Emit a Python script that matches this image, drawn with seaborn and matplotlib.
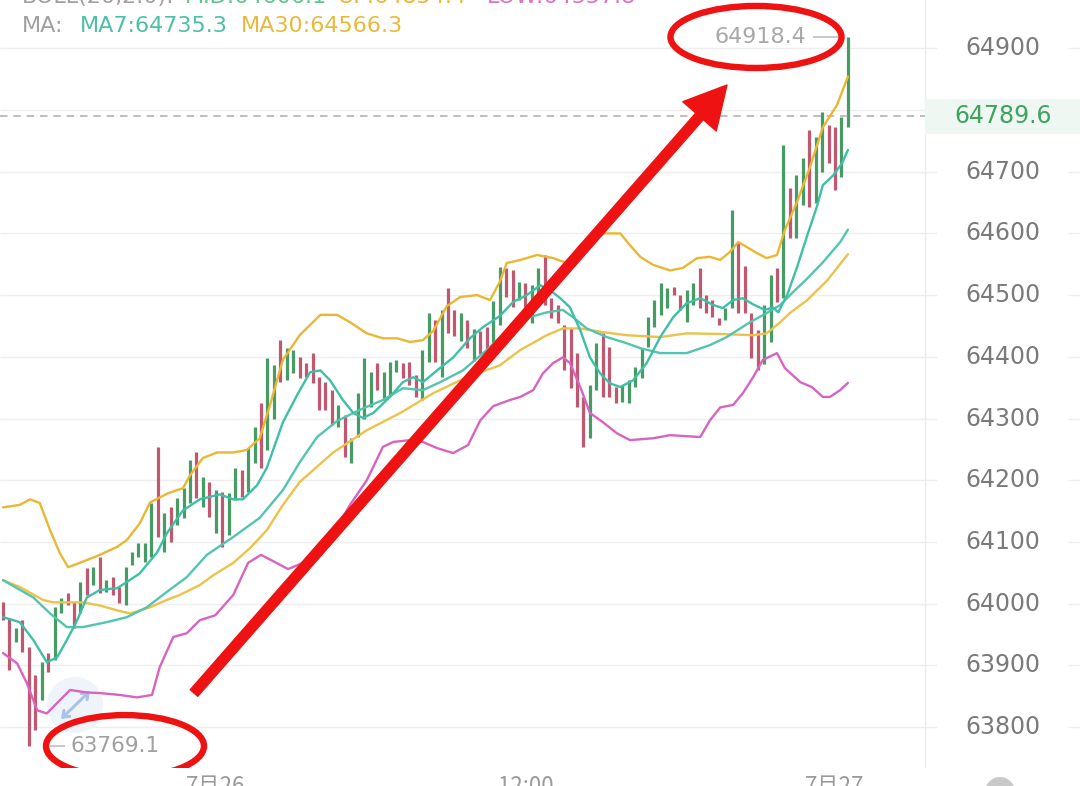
import numpy as np
import pandas as pd
import matplotlib
matplotlib.use("Agg")
import matplotlib.pyplot as plt
import seaborn as sns
from matplotlib.patches import Ellipse, Rectangle, FancyArrowPatch

# ---------------- data (15-minute candles) ----------------
highs = [64003, 63976, 63960, 63973, 63929, 63884, 63905, 63920, 63994, 64009,
         64017, 64002, 64035, 64057, 64059, 64075, 64038, 64043, 64027, 64059,
         64083, 64098, 64098, 64163, 64254, 64147, 64156, 64171, 64187, 64233,
         64245, 64205, 64197, 64184, 64181, 64179, 64220, 64216, 64252, 64286,
         64325, 64398, 64386, 64427, 64414, 64411, 64400, 64390, 64406, 64367,
         64359, 64346, 64322, 64306, 64268, 64341, 64398, 64375, 64390, 64375,
         64392, 64395, 64390, 64392, 64370, 64411, 64471, 64459, 64476, 64511,
         64476, 64471, 64459, 64445, 64442, 64448, 64490, 64545, 64544, 64540,
         64521, 64519, 64516, 64544, 64565, 64495, 64484, 64452, 64447, 64406,
         64335, 64354, 64422, 64438, 64416, 64351, 64354, 64362, 64383, 64414,
         64464, 64492, 64519, 64511, 64513, 64500, 64508, 64519, 64544, 64500,
         64492, 64463, 64479, 64638, 64586, 64547, 64471, 64443, 64484, 64532,
         64544, 64743, 64673, 64694, 64722, 64767, 64756, 64797, 64775, 64772,
         64788, 64918.4]
lows = [63973, 63892, 63938, 63921, 63769.1, 63795, 63843, 63889, 63908, 63985,
        63998, 63960, 63985, 64014, 64030, 64017, 64019, 64014, 64001, 63998,
        64062, 64075, 64067, 64075, 64108, 64083, 64100, 64127, 64139, 64163,
        64171, 64156, 64140, 64114, 64092, 64111, 64168, 64173, 64181, 64228,
        64220, 64249, 64300, 64359, 64362, 64373, 64365, 64367, 64357, 64314,
        64314, 64289, 64286, 64237, 64228, 64270, 64300, 64319, 64346, 64330,
        64338, 64375, 64366, 64354, 64335, 64330, 64392, 64392, 64367, 64438,
        64433, 64425, 64414, 64393, 64404, 64411, 64411, 64451, 64497, 64481,
        64492, 64481, 64455, 64497, 64484, 64463, 64455, 64378, 64349, 64318,
        64254, 64268, 64346, 64335, 64335, 64325, 64327, 64325, 64351, 64365,
        64416, 64448, 64468, 64479, 64500, 64476, 64456, 64484, 64479, 64471,
        64464, 64452, 64460, 64479, 64471, 64471, 64398, 64378, 64388, 64424,
        64489, 64495, 64592, 64592, 64646, 64643, 64649, 64699, 64714, 64670,
        64691, 64773]
rising = [0, 0, 1, 0, 0, 0, 1, 0, 1, 1,
          0, 0, 1, 0, 1, 0, 1, 0, 0, 1,
          1, 1, 1, 1, 0, 1, 0, 1, 1, 1,
          0, 1, 0, 1, 0, 1, 1, 0, 1, 1,
          0, 1, 1, 0, 1, 1, 0, 0, 0, 0,
          0, 0, 1, 0, 1, 1, 1, 1, 0, 1,
          1, 1, 0, 0, 0, 1, 1, 0, 1, 0,
          0, 1, 0, 1, 0, 0, 1, 1, 0, 0,
          1, 0, 1, 1, 0, 0, 0, 0, 0, 0,
          0, 1, 1, 0, 0, 0, 1, 1, 1, 1,
          1, 1, 1, 1, 0, 0, 1, 1, 0, 0,
          0, 0, 1, 1, 0, 0, 0, 0, 1, 1,
          0, 1, 0, 1, 1, 0, 1, 1, 0, 0,
          1, 1]
last_price = 64789.6

boll_up_i = [0, 2.6, 4.2, 5.7, 7.3, 8.8, 10.1, 11.9, 15.0, 17.7, 19.2, 21.2, 22.8, 25.6,
             27.9, 29.0, 31.0, 33.2, 35.7, 37.8, 39.8, 41.4, 43.4, 46.0, 49.2, 51.8, 53.8,
             56.4, 58.9, 61.1, 63.1, 65.1, 66.7, 68.8, 70.9, 73.5, 75.5, 77.0, 78.1, 80.2,
             82.8, 85.3, 87.4, 89.5, 92.6, 95.7, 97.2, 98.8, 100.8, 103.4, 105.4, 107.6,
             109.6, 111.2, 112.7, 114.0, 115.3, 116.9, 118.4, 120.0, 121.2, 123.1, 125.1,
             127.1, 129.3, 131]
boll_up_p = [64156, 64160, 64169, 64163, 64119, 64082, 64059, 64066, 64079, 64092,
             64103, 64130, 64164, 64179, 64187, 64208, 64236, 64245, 64245, 64249,
             64268, 64322, 64395, 64435, 64468, 64468, 64456, 64438, 64430, 64430,
             64424, 64427, 64442, 64482, 64497, 64500, 64492, 64521, 64552, 64557,
             64565, 64560, 64552, 64581, 64600, 64600, 64581, 64562, 64549, 64540,
             64544, 64560, 64562, 64557, 64570, 64586, 64578, 64568, 64560, 64565,
             64605, 64651, 64707, 64772, 64808, 64854.4]

boll_mid_i = [0, 4.7, 7.3, 9.9, 12.4, 16.1, 19.2, 22.3, 25.4, 28.5, 31.6, 35.7, 39.8,
              43.4, 46.0, 48.7, 51.8, 55.3, 58.9, 62.0, 65.1, 67.8, 71.3, 75.0, 78.1,
              81.2, 84.3, 86.8, 88.4, 90.5, 93.6, 96.7, 98.8, 101.9, 106.0, 109.6,
              112.2, 115.8, 118.4, 120.5, 122.5, 124.7, 127.1, 129.8, 131]
boll_mid_p = [64038, 64010, 63984, 63962, 63962, 63970, 63978, 63994, 64019, 64043,
              64079, 64108, 64139, 64184, 64229, 64270, 64296, 64314, 64330, 64349,
              64346, 64359, 64378, 64411, 64442, 64463, 64472, 64476, 64464, 64446,
              64432, 64422, 64414, 64406, 64406, 64419, 64432, 64456, 64471, 64484,
              64505, 64527, 64553, 64586, 64606.1]

boll_low_i = [0, 2.2, 3.7, 5.3, 6.8, 8.4, 10.4, 13.0, 15.0, 18.1, 20.8, 23.1, 24.3,
              26.4, 28.5, 30.5, 32.9, 35.7, 38.0, 40.0, 42.2, 44.2, 46.5, 48.4, 51.5,
              53.8, 56.4, 58.9, 60.5, 63.1, 65.1, 67.3, 69.8, 72.1, 74.0, 76.0, 78.6,
              80.2, 82.2, 83.7, 85.3, 86.8, 87.9, 89.5, 91.0, 93.0, 95.2, 97.2, 100.8,
              103.4, 108.1, 109.6, 111.2, 113.2, 114.7, 116.3, 117.8, 120.0, 121.2,
              123.6, 125.4, 127.1, 128.2, 129.8, 131]
boll_low_p = [63920, 63903, 63871, 63827, 63822, 63839, 63860, 63856, 63855, 63852,
              63848, 63852, 63897, 63946, 63952, 63973, 63981, 64014, 64066, 64079,
              64067, 64056, 64066, 64077, 64119, 64160, 64200, 64254, 64262, 64265,
              64262, 64252, 64244, 64257, 64297, 64320, 64330, 64335, 64346, 64373,
              64390, 64399, 64390, 64351, 64309, 64294, 64276, 64265, 64268, 64273,
              64270, 64297, 64318, 64322, 64341, 64367, 64395, 64406, 64382, 64359,
              64351, 64335, 64335, 64346, 64357.8]

ma7_i = [0, 2.6, 4.7, 6.8, 8.4, 9.9, 11.5, 13.0, 15.0, 17.7, 19.2, 21.2, 23.9, 25.4,
         27.9, 30.5, 33.6, 35.7, 37.2, 39.4, 40.9, 43.4, 45.6, 47.6, 49.2, 50.7, 52.7,
         54.3, 55.8, 57.4, 60.0, 62.0, 63.6, 65.1, 67.3, 69.8, 72.4, 74.4, 77.0, 79.1,
         81.2, 83.3, 84.8, 86.4, 87.9, 89.5, 91.0, 92.6, 94.1, 95.7, 97.7, 99.8, 101.9,
         103.9, 106.0, 108.1, 110.1, 111.6, 113.2, 114.7, 116.3, 118.1, 119.4, 120.2,
         121.6, 123.1, 124.7, 126.2, 127.1, 128.7, 130.1, 131]
ma7_p = [63978, 63970, 63941, 63905, 63913, 63941, 63973, 64010, 64022, 64025,
         64035, 64049, 64083, 64114, 64151, 64169, 64177, 64169, 64169, 64192,
         64220, 64294, 64338, 64375, 64378, 64362, 64330, 64309, 64301, 64309,
         64335, 64359, 64367, 64359, 64378, 64399, 64430, 64448, 64466, 64489,
         64500, 64516, 64508, 64495, 64480, 64443, 64399, 64373, 64357, 64351,
         64362, 64390, 64432, 64464, 64487, 64495, 64484, 64479, 64492, 64495,
         64485, 64476, 64480, 64472, 64501, 64545, 64597, 64644, 64678, 64694,
         64714, 64735.3]

ma30_i = [0, 2.6, 6.2, 7.8, 12.4, 15.0, 17.7, 19.7, 22.8, 25.4, 27.4, 30.5, 32.6,
          35.7, 38.3, 40.9, 43.4, 46.0, 51.2, 56.4, 61.6, 66.7, 71.9, 77.0, 80.2,
          84.3, 86.8, 89.5, 93.0, 96.7, 101.9, 106.0, 111.2, 116.3, 118.4, 120.5,
          122.0, 124.7, 127.8, 131]
ma30_p = [64038, 64027, 64006, 64002, 64002, 63997, 63989, 63984, 63994, 64006,
          64014, 64030, 64046, 64066, 64090, 64119, 64160, 64197, 64245, 64281,
          64309, 64341, 64367, 64386, 64411, 64435, 64446, 64446, 64440, 64435,
          64432, 64438, 64437, 64435, 64438, 64456, 64471, 64492, 64524, 64566.3]

price_ticks = [63800, 63900, 64000, 64100, 64200, 64300, 64400, 64500,
               64600, 64700, 64800, 64900]
price_tick_labels = ['63800', '63900', '64000', '64100', '64200', '64300', '64400',
                     '64500', '64600', '64700', '', '64900']
time_ticks = [33, 81, 129]
time_labels = ['7月26', '12:00', '7月27']

# ---------------- style ----------------
sns.set_style("white")
plt.rcParams['font.family'] = ['DejaVu Sans', 'Noto Sans CJK SC']

GREEN = '#479c66'
RED = '#c2586f'
C_UP = '#ebb733'
C_MA30 = '#ecc24a'
C_MID = '#52c4b0'
C_MA7 = '#3fbfa6'
C_LOW = '#d664c0'
RED_MARK = '#ee1212'

W, H = 1080, 786
AX_H = 768
fig = plt.figure(figsize=(W / 100, H / 100), dpi=100)
fig.patch.set_facecolor('white')
ax = fig.add_axes([0, (H - AX_H) / H, 1, AX_H / H])
ax.set_facecolor('white')

# pixel <-> data layout helpers (candle 0 at px 3, 6.45 px per candle; 61.7 px per 100)
X0, DX = 3.0, 6.45
P_TOP, PPP = 64978.3, 100 / 61.7


def px2x(px):
    return (px - X0) / DX


def px2p(py):
    return P_TOP - py * PPP


ax.set_xlim(px2x(0), px2x(W))
ax.set_ylim(px2p(AX_H), px2p(0))
for s in ax.spines.values():
    s.set_visible(False)

# grid lines (main area and stubs on the price panel)
for v in price_ticks:
    ax.hlines(v, px2x(0), px2x(937), colors='#eeeeee', lw=1.0, zorder=0)
    ax.hlines(v, px2x(1068), px2x(W), colors='#eeeeee', lw=1.0, zorder=0)
ax.axvline(px2x(925), color='#ececec', lw=1.0, zorder=0)

# candles
idx = np.arange(len(highs))
cols = [GREEN if r else RED for r in rising]
ax.vlines(idx, lows, highs, colors=cols, lw=2.3, zorder=1.5)

# indicator lines via seaborn
frames = []
for name, xs, ys in [('BOLL UP', boll_up_i, boll_up_p), ('MA30', ma30_i, ma30_p),
                     ('BOLL MID', boll_mid_i, boll_mid_p), ('MA7', ma7_i, ma7_p),
                     ('BOLL LOW', boll_low_i, boll_low_p)]:
    frames.append(pd.DataFrame({'i': xs, 'price': ys, 'line': name}))
df = pd.concat(frames, ignore_index=True)
pal = {'BOLL UP': C_UP, 'MA30': C_MA30, 'BOLL MID': C_MID, 'MA7': C_MA7, 'BOLL LOW': C_LOW}
sns.lineplot(data=df, x='i', y='price', hue='line', palette=pal, estimator=None,
             sort=False, legend=False, lw=1.7, ax=ax, zorder=3)

# current price dashed line and box
ax.hlines(last_price, px2x(0), px2x(925), colors='#b3b3b3', lw=1.2,
          linestyles=(0, (4.5, 3.5)), zorder=2)
ax.add_patch(Rectangle((px2x(925), last_price - 17.5 * PPP), px2x(W) - px2x(925),
                       35 * PPP, facecolor='#eef7f1', edgecolor='none', zorder=1))
ax.text(px2x(1003), last_price, f'{last_price}', ha='center', va='center',
        fontsize=17, color='#3ea35f', zorder=5)

# price labels
for v, lab in zip(price_ticks, price_tick_labels):
    if lab:
        ax.text(px2x(1003), v, lab, ha='center', va='center', fontsize=17,
                color='#7a7a7a', zorder=5)

# x tick labels
ax.set_yticks([])
ax.set_xticks(time_ticks)
ax.set_xticklabels(time_labels, fontsize=16, color='#9a9a9a',
                   family=['Noto Sans CJK SC', 'DejaVu Sans'])
ax.tick_params(axis='x', length=0, pad=5)

# high / low markers
hi_v = max(highs)
lo_v = min(lows)
ax.hlines(hi_v, px2x(813), px2x(838), colors='#c0c0c0', lw=1.2, zorder=4)
ax.text(px2x(806), hi_v, f'{hi_v}', ha='right', va='center', fontsize=16,
        color='#a8a8a8', zorder=5)
ax.hlines(lo_v, px2x(50), px2x(65), colors='#c0c0c0', lw=1.2, zorder=4)
ax.text(px2x(71), lo_v, f'{lo_v}', ha='left', va='center', fontsize=15.5,
        color='#a0a0a0', zorder=5)

# expand icon
ax.add_patch(Ellipse((px2x(75), px2p(705)), 56 / DX, 56 * PPP, facecolor='#eef3fb',
                     edgecolor='none', zorder=2.5, alpha=0.9))
ax.add_patch(FancyArrowPatch((px2x(61), px2p(719)), (px2x(90), px2p(691)),
                             arrowstyle='<->,head_length=4,head_width=3', color='#a9c3e6',
                             lw=2.2, zorder=2.6, shrinkA=0, shrinkB=0))

# red annotations
ax.add_patch(Ellipse((px2x(756), hi_v), 171 / DX, 62 * PPP, facecolor='none',
                     edgecolor=RED_MARK, lw=4.6, zorder=8))
ax.add_patch(Ellipse((px2x(125), lo_v), 158 / DX, 62 * PPP, facecolor='none',
                     edgecolor=RED_MARK, lw=4.6, zorder=8))
ax.add_patch(FancyArrowPatch((px2x(194), px2p(693)), (px2x(727), px2p(85)),
                             arrowstyle='simple,head_length=1.5,head_width=1.6,tail_width=0.36',
                             mutation_scale=20, color=RED_MARK, zorder=9,
                             shrinkA=0, shrinkB=0))

# bottom-right partial icon
ax.add_patch(Ellipse((px2x(1000), px2p(792)), 30 / DX, 30 * PPP, facecolor='#c9c9c9',
                     edgecolor='none', zorder=2, clip_on=False))

# header texts
FS = 16


def put(x_px, y_px, s, c):
    fig.text(x_px / W, 1 - y_px / H, s, color=c, fontsize=FS, ha='left', va='center')


put(22, -3, 'BOLL(20,2.0):', '#a0a0a0')
put(185, -3, 'MID:64606.1', '#5cc78c')
put(337, -3, 'UP:64854.4', C_UP)
put(487, -3, 'LOW:64357.8', '#e070c8')
put(22, 26, 'MA:', '#a0a0a0')
put(80, 26, 'MA7:64735.3', '#4cbfa8')
put(241, 26, 'MA30:64566.3', '#e8b93a')

fig.savefig('out.png', dpi=100, facecolor='white')
